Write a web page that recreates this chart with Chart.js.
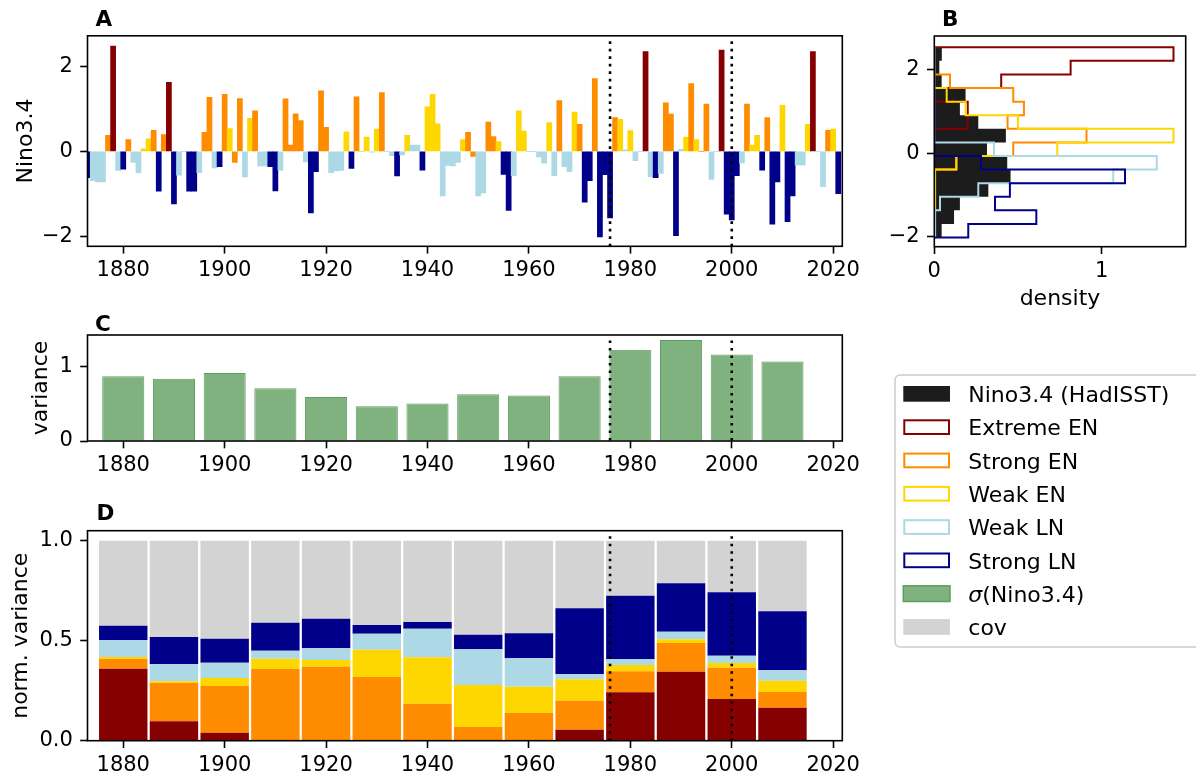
<!DOCTYPE html>
<html><head><meta charset="utf-8">
<script src="https://cdn.jsdelivr.net/npm/chart.js@4.4.1/dist/chart.umd.min.js"></script>
<style>
html,body{margin:0;padding:0;background:#fff;width:1196px;height:776px;overflow:hidden;}
canvas{position:absolute;}
#ov{position:absolute;left:0;top:0;pointer-events:none;}
</style></head><body>
<canvas id="cA" width="880" height="300" style="left:0;top:0"></canvas>
<canvas id="cB" width="316" height="320" style="left:880px;top:0"></canvas>
<canvas id="cC" width="880" height="180" style="left:0;top:300px"></canvas>
<canvas id="cD" width="880" height="296" style="left:0;top:480px"></canvas>
<svg id="ov" width="1196" height="776" font-family="DejaVu Sans"></svg>
<script>
// ---------------- DATA ----------------
const firstYear = 1873;
// yearly Nino3.4 values, 1873..2021
const ninoValues = [
 -0.62,-0.69,-0.72,-0.72,0.38,2.49,-0.45,            // 1873-1879
 -0.42,0.28,-0.26,-0.50,0.06,0.30,0.50,-0.94,0.40,1.63, // 1880s
 -1.24,-0.56,0,-0.94,-0.94,-0.50,0.45,1.28,-0.39,-0.36, // 1890s
 1.35,0.54,-0.26,1.25,-0.60,0.78,0.96,-0.34,-0.34,-0.36, // 1900s
 -0.93,-0.44,1.24,0.15,0.89,0.73,-0.25,-1.45,-0.48,1.43, // 1910s
 0.57,-0.50,-0.46,-0.45,0.46,-0.40,1.29,0,0.34,-0.02,    // 1920s
 0.53,1.39,0,-0.10,-0.58,-0.08,0.38,0.15,0.15,-0.44,     // 1930s
 1.05,1.35,0.65,-1.05,-0.33,-0.34,-0.26,0.28,0.45,-0.12, // 1940s
 -1.05,-0.98,0.69,0.35,0.23,-0.54,-1.39,-0.57,0.96,0.48, // 1950s
 0,0,-0.13,-0.28,0.68,-0.57,1.20,-0.36,-0.48,0.93,       // 1960s
 0.64,-1.20,-0.69,1.72,-2.02,-0.55,-1.57,0.80,0.76,0.04, // 1970s
 0.49,-0.22,0,2.36,-0.60,-0.62,-0.52,1.15,0.88,-1.99,    // 1980s
 0.05,0.34,1.60,0.28,0,1.12,-0.66,0,2.39,-1.48,          // 1990s
 -1.62,-0.57,-0.27,1.12,0.15,0.38,-0.44,0.80,-1.72,-0.72,// 2000s
 1.09,-1.66,-1.05,-0.32,-0.32,0.64,2.36,0,-0.83,0.50,    // 2010s
 0.53,-1.00                                              // 2020-2021
];
// event class per year: X extreme EN, S strong EN, W weak EN, l weak LN, L strong LN
const ninoClasses = [
 'L','l','l','l','S','X','l',
 'L','S','l','l','W','W','S','L','S','X',
 'L','l','l','L','L','l','S','S','l','L',
 'S','W','S','S','l','W','S','l','l','L',
 'L','l','S','S','S','S','l','L','L','S',
 'S','l','l','l','W','L','S','W','W','l',
 'W','S','l','l','L','l','W','l','l','L',
 'W','W','W','l','l','l','l','W','S','S',
 'l','l','S','S','W','L','L','l','W','W',
 'l','l','l','l','W','l','S','l','l','W',
 'S','L','L','S','L','L','L','S','W','l',
 'W','l','l','X','l','L','l','S','S','L',
 'l','W','S','W','S','S','l','l','X','L',
 'L','L','l','S','W','W','L','S','L','L',
 'W','L','L','l','l','W','X','l','l','S',
 'W','L'
];
const yearTicks = [1880,1900,1920,1940,1960,1980,2000,2020];
const ninoTicks = [-2,0,2];
const markerYears = [1976,2000];

// Panel B histograms (bin edges and densities)
const histEdges = [-2.02,-1.695,-1.37,-1.045,-0.72,-0.395,-0.07,0.255,0.58,0.905,1.23,1.555,1.88,2.205,2.53];
const densAll      = [0.044,0.118,0.153,0.323,0.456,0.436,0.315,0.428,0.263,0.153,0.187,0.044,0.030,0.045];
const densExtreme  = [0,0,0,0,0,0,0,0,0.20,0.20,0,0.40,0.815,1.43];
const densStrongEN = [0,0,0,0,0,0.13,0.472,0.91,0.438,0.536,0.472,0.094,0,0];
const densWeakEN   = [0,0,0.005,0.005,0.005,0.133,0.735,1.43,0.50,0.187,0.074,0,0,0];
const densWeakLN   = [0.005,0.005,0.034,0.263,1.07,1.33,0.357,0,0,0,0,0,0,0];
const densStrongLN = [0.203,0.61,0.363,0.452,1.14,0.279,0,0,0,0,0,0,0,0];
const densityTicks = [0,1];

// Panels C and D (decadal windows)
const decades = [1880,1890,1900,1910,1920,1930,1940,1950,1960,1970,1980,1990,2000,2010];
const variance = [0.873,0.841,0.918,0.710,0.593,0.470,0.507,0.629,0.615,0.873,1.230,1.361,1.167,1.072];
const varianceTicks = [0,1];
const nvExtreme  = [0.360,0.097,0.040,0,0,0,0,0,0,0.055,0.242,0.345,0.208,0.165];
const nvStrongEN = [0.048,0.191,0.233,0.358,0.370,0.318,0.185,0.068,0.138,0.145,0.105,0.143,0.157,0.078];
const nvWeakEN   = [0.010,0.009,0.040,0.052,0.033,0.137,0.232,0.210,0.132,0.107,0.031,0.019,0.023,0.057];
const nvWeakLN   = [0.085,0.086,0.077,0.040,0.059,0.080,0.143,0.179,0.142,0.026,0.029,0.038,0.037,0.052];
const nvStrongLN = [0.072,0.135,0.120,0.140,0.148,0.043,0.033,0.073,0.125,0.329,0.318,0.242,0.317,0.295];
const nvCov      = [0.425,0.482,0.490,0.410,0.390,0.422,0.407,0.470,0.463,0.338,0.275,0.213,0.258,0.353];
const normTicks = [0,0.5,1.0];

const legendLabels = ['Nino3.4 (HadISST)','Extreme EN','Strong EN','Weak EN','Weak LN','Strong LN','σ(Nino3.4)','cov'];

// ---------------- STYLE ----------------
const COL = {X:'#850000', S:'#ff8c00', W:'#ffd700', l:'#add8e6', L:'#00008b'};
const HIST_BLACK = '#1c1c1c', GREEN_FILL = 'rgb(128,178,128)', GREEN_EDGE = 'rgb(96,158,96)', COV = '#d3d3d3';
const FONT = {family:'"DejaVu Sans", sans-serif', size:21};
const XMIN = 1872.95, XMAX = 2021.8;
Chart.defaults.font.family = FONT.family;

const minus = v => (v < 0 ? '\u2212' + Math.abs(v) : String(v));

function axis(opts){
  const {min,max,ticks,fmt,size,horizontal,stacked,pad} = opts;
  return {
    type:'linear', min, max, offset:false, stacked: !!stacked,
    afterBuildTicks: s => { s.ticks = ticks.map(v => ({value:v})); },
    afterFit: s => { if (horizontal) s.height = size; else s.width = size; },
    grid:{display:true, drawOnChartArea:false, drawTicks:true, tickLength:7.3, tickWidth:1.6, tickColor:'#000', offset:false},
    border:{display:false},
    ticks:{font:FONT, color:'#000', padding: pad, autoSkip:false, maxRotation:0, minRotation:0, callback: v => fmt(v)}
  };
}

const boxPlugin = {
  id:'box',
  afterDraw(chart){
    const {ctx, chartArea:a} = chart;
    ctx.save(); ctx.strokeStyle='#000'; ctx.lineWidth=1.6; ctx.setLineDash([]);
    ctx.strokeRect(a.left, a.top, a.right-a.left, a.bottom-a.top);
    ctx.restore();
  }
};
const markerPlugin = {
  id:'markers',
  afterDatasetsDraw(chart){
    const {ctx, chartArea:a, scales:{x}} = chart;
    ctx.save(); ctx.strokeStyle='#000'; ctx.lineWidth=2.6; ctx.setLineDash([2.6,4.9]);
    markerYears.forEach(yr => {
      const px = x.getPixelForValue(yr);
      ctx.beginPath(); ctx.moveTo(px, a.top+5.5); ctx.lineTo(px, a.bottom); ctx.stroke();
    });
    ctx.restore();
  }
};
const baseOpts = (pad) => ({
  responsive:false, animation:false, devicePixelRatio:1,
  layout:{autoPadding:false, padding:pad},
  plugins:{legend:{display:false}, tooltip:{enabled:false}}
});

// ---------------- PANEL A ----------------
new Chart(document.getElementById('cA'), {
  type:'bar',
  data:{datasets:[{
    data: ninoValues.map((v,i)=>({x:firstYear+i, y:v})),
    backgroundColor: ninoClasses.map(c=>COL[c]),
    borderWidth:0, barPercentage:1, categoryPercentage:1
  }]},
  options:Object.assign(baseOpts({left:0,top:35.8,right:37.7,bottom:0}),{
    scales:{
      x: axis({min:XMIN,max:XMAX,ticks:yearTicks,fmt:String,size:53.7,horizontal:true,stacked:true,pad:4.5}),
      y: axis({min:-2.24,max:2.73,ticks:ninoTicks,fmt:minus,size:87.5,pad:7.3})
    }
  }),
  plugins:[markerPlugin, boxPlugin]
});

// ---------------- PANEL B ----------------
function outline(dens){
  const pts = [{x:0, y:histEdges[0]}];
  dens.forEach((d,i)=>{ pts.push({x:d, y:histEdges[i]}); pts.push({x:d, y:histEdges[i+1]}); });
  pts.push({x:0, y:histEdges[histEdges.length-1]});
  return pts;
}
const stepDs = (dens, color, order) => ({data:outline(dens), borderColor:color, borderWidth:2, pointRadius:0, fill:false, tension:0, order});
new Chart(document.getElementById('cB'), {
  type:'line',
  data:{datasets:[
    {data:outline(densAll), borderWidth:0, borderColor:HIST_BLACK, backgroundColor:HIST_BLACK, fill:'origin', pointRadius:0, tension:0, order:6},
    stepDs(densExtreme, COL.X, 5),
    stepDs(densStrongEN, COL.S, 4),
    stepDs(densWeakEN, COL.W, 3),
    stepDs(densWeakLN, COL.l, 2),
    stepDs(densStrongLN, COL.L, 1)
  ]},
  options:Object.assign(baseOpts({left:0,top:36,right:10.3,bottom:0}),{
    indexAxis:'y',
    scales:{
      x: axis({min:0,max:1.503,ticks:densityTicks,fmt:String,size:73.3,horizontal:true,pad:4.5}),
      y: axis({min:-2.24,max:2.80,ticks:ninoTicks,fmt:minus,size:54.3,pad:7.3})
    }
  }),
  plugins:[boxPlugin]
});

// ---------------- PANEL C ----------------
new Chart(document.getElementById('cC'), {
  type:'bar',
  data:{datasets:[{
    data: decades.map((d,i)=>({x:d, y:variance[i]})),
    backgroundColor:GREEN_FILL, borderColor:GREEN_EDGE, borderWidth:1,
    barPercentage:0.83, categoryPercentage:1
  }]},
  options:Object.assign(baseOpts({left:0,top:35,right:37.7,bottom:0}),{
    scales:{
      x: axis({min:XMIN,max:XMAX,ticks:yearTicks,fmt:String,size:39,horizontal:true,stacked:true,pad:4.5}),
      y: axis({min:0,max:1.43,ticks:varianceTicks,fmt:String,size:87.5,pad:7.3})
    }
  }),
  plugins:[markerPlugin, boxPlugin]
});

// ---------------- PANEL D ----------------
const nvDs = (arr, color) => ({data: decades.map((d,i)=>({x:d, y:arr[i]})), backgroundColor:color, borderWidth:0, barPercentage:0.955, categoryPercentage:1});
new Chart(document.getElementById('cD'), {
  type:'bar',
  data:{datasets:[
    nvDs(nvExtreme, COL.X), nvDs(nvStrongEN, COL.S), nvDs(nvWeakEN, COL.W),
    nvDs(nvWeakLN, COL.l), nvDs(nvStrongLN, COL.L), nvDs(nvCov, COV)
  ]},
  options:Object.assign(baseOpts({left:0,top:50.7,right:37.7,bottom:0}),{
    scales:{
      x: axis({min:XMIN,max:XMAX,ticks:yearTicks,fmt:String,size:35.3,horizontal:true,stacked:true,pad:4.5}),
      y: axis({min:0,max:1.05,ticks:normTicks,fmt:v=>v.toFixed(1),size:87.5,stacked:true,pad:7.3})
    }
  }),
  plugins:[markerPlugin, boxPlugin]
});

// ---------------- TEXT OVERLAY ----------------
const svg = document.getElementById('ov');
const NS = 'http://www.w3.org/2000/svg';
function el(tag, attrs, text){
  const e = document.createElementNS(NS, tag);
  for (const k in attrs) e.setAttribute(k, attrs[k]);
  if (text !== undefined) e.textContent = text;
  svg.appendChild(e); return e;
}
[['A',95.5,26],['B',942,26],['C',95,330.7],['D',96.5,520]].forEach(([t,x,y])=>el('text',{x,y,'font-size':21.5,'font-weight':'bold'},t));
el('text',{transform:'translate(31.7,141) rotate(-90)','text-anchor':'middle','font-size':22},'Nino3.4');
el('text',{transform:'translate(47,388) rotate(-90)','text-anchor':'middle','font-size':22},'variance');
el('text',{transform:'translate(26.7,635.7) rotate(-90)','text-anchor':'middle','font-size':22},'norm. variance');
el('text',{x:1060,y:305,'text-anchor':'middle','font-size':22},'density');

// legend
el('rect',{x:895,y:375,width:330,height:272,rx:5,ry:5,fill:'rgba(255,255,255,0.8)',stroke:'#cccccc','stroke-width':1.5});
const legendStyles = [
  {fill:HIST_BLACK}, {stroke:COL.X}, {stroke:COL.S}, {stroke:COL.W}, {stroke:COL.l}, {stroke:COL.L},
  {fill:GREEN_FILL, edge:GREEN_EDGE}, {fill:COV}
];
legendLabels.forEach((lab,i)=>{
  const y0 = 386 + 33.3*i;
  const s = legendStyles[i];
  if (s.stroke) el('rect',{x:904.3,y:y0+1,width:44.7,height:13.7,fill:'none',stroke:s.stroke,'stroke-width':2});
  else el('rect',{x:903.3,y:y0,width:46.7,height:15.7,fill:s.fill,stroke:s.edge||'none','stroke-width':s.edge?1.5:0});
  const t = el('text',{x:968.3,y:402+33.3*i,'font-size':22});
  if (lab.startsWith('σ')) {
    const a = document.createElementNS(NS,'tspan'); a.setAttribute('font-style','italic'); a.textContent='σ'; t.appendChild(a);
    const b = document.createElementNS(NS,'tspan'); b.textContent=lab.slice(1); t.appendChild(b);
  } else t.textContent = lab;
});
</script>
</body></html>
